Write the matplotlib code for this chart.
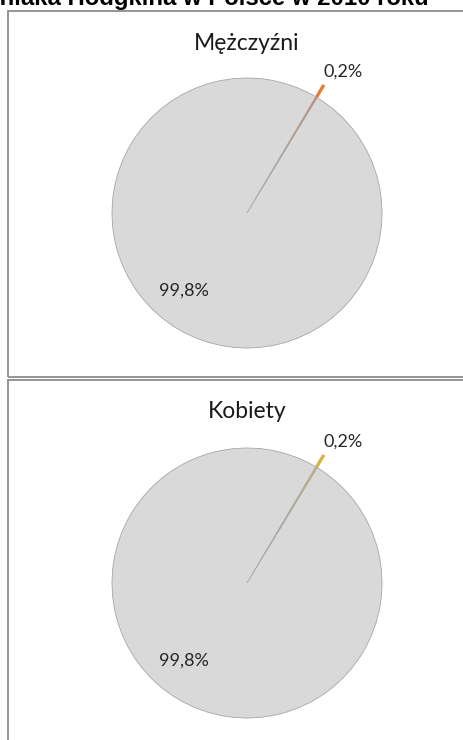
import matplotlib.pyplot as plt
import matplotlib.patches as mpatches
import numpy as np

# udział chłoniaka Hodgkina wśród wszystkich zachorowań (%)
groups = ['Mężczyźni', 'Kobiety']
hodgkin_share = [0.2, 0.2]
other_share = [99.8, 99.8]
slice_colors = ['#e07b39', '#d4b24c']

W, H = 464, 740
fig = plt.figure(figsize=(W / 100, H / 100), dpi=100)
fig.patch.set_facecolor('white')

label_font = 'Lato'


def fmt(v):
    return f'{v:.1f}%'.replace('.', ',')


def panel(top, bottom):
    # ramka wykresu, prawa krawędź wychodzi poza obraz
    r = mpatches.Rectangle((8 / W, 1 - bottom / H), 1.0, (bottom - top) / H,
                           transform=fig.transFigure, fill=False,
                           edgecolor='#8c8c8c', linewidth=1.3)
    fig.add_artist(r)


panel(11, 377)
panel(380, 760)

# tytuł przycięty u góry
fig.text(429 / W, 1 - 5.5 / H, 'Zachorowania na chłoniaka Hodgkina w Polsce w 2010 roku',
         ha='right', va='baseline', fontsize=17.2, fontweight='bold',
         family='Liberation Sans', color='black')

centers_y = [213, 583]
radius = 135
cx = 247
lim = 1.4

for name, small, big, col, cy, ty in zip(groups, hodgkin_share, other_share,
                                         slice_colors, centers_y, [44, 411]):
    size = 2 * radius * lim
    ax = fig.add_axes([(cx - size / 2) / W, 1 - (cy + size / 2) / H, size / W, size / H])
    wedges, _ = ax.pie([small, big], colors=[col, '#d9d9d9'], startangle=59.4,
                       counterclock=False, explode=[0.1, 0], radius=1,
                       wedgeprops=dict(edgecolor='#a6a6a6', linewidth=0.6))
    ax.set_xlim(-lim, lim)
    ax.set_ylim(-lim, lim)
    ax.set_aspect('equal')
    ax.axis('off')
    wedges[0].set_edgecolor(col)
    wedges[0].set_linewidth(1.2)
    # etykiety procentowe: mały wycinek na zewnątrz, duży wewnątrz
    for w, v, dist, shift in zip(wedges, [small, big], [1.27, 0.74], [-3.3, 0]):
        ang = np.deg2rad((w.theta1 + w.theta2) / 2 + shift)
        if v == big:
            ang = np.deg2rad(231)
        ax.text(dist * np.cos(ang), dist * np.sin(ang), fmt(v), ha='center', va='center',
                fontsize=13, family=label_font, color='#262626')
    fig.text(cx / W, 1 - ty / H, name, ha='center', va='center', fontsize=16.5,
             family=label_font, color='#1a1a1a')

fig.savefig('out.png', dpi=100)
